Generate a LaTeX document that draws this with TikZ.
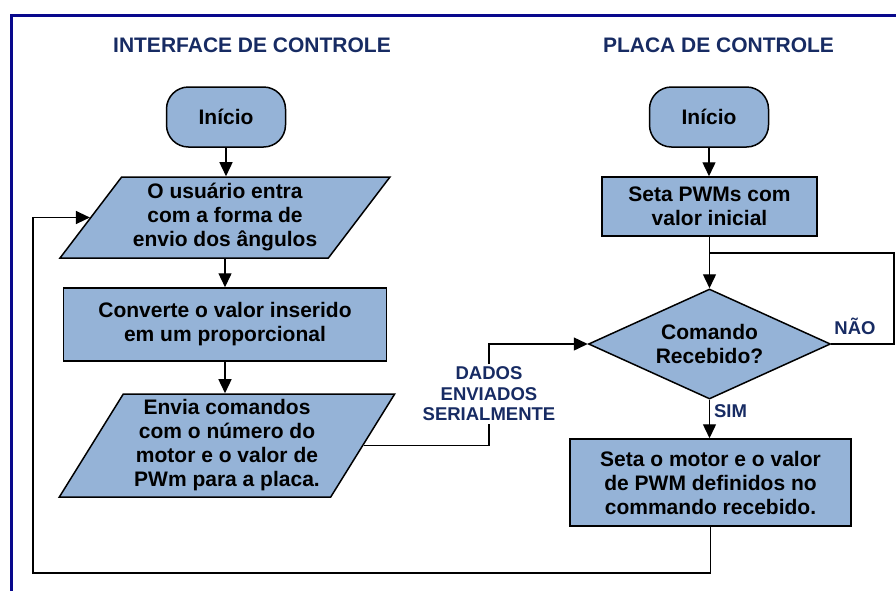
\documentclass[tikz,border=0pt]{standalone}
\usepackage{fontspec}
\setmainfont{Liberation Sans}
\usetikzlibrary{arrows.meta,shapes.geometric}

\definecolor{caixa}{RGB}{149,179,215}
\definecolor{azultexto}{RGB}{23,43,99}
\definecolor{moldura}{RGB}{8,8,140}

\tikzset{
	texto/.style={font=\fontsize{21}{24}\selectfont\bfseries, align=center},
	bloco/.style={texto, draw, fill=caixa, line width=1.5pt},
	inicio/.style={bloco, rounded corners=22pt, minimum width=119pt, minimum height=60pt},
	processo/.style={bloco, inner sep=0pt},
	entrada/.style={bloco, trapezium, trapezium stretches=true, inner sep=0pt},
	decisao/.style={bloco, diamond, aspect=2.2, inner sep=0pt},
	rotulo/.style={font=\fontsize{18.5}{20.5}\selectfont\bfseries, text=azultexto, align=center},
	cabecalho/.style={font=\fontsize{21}{24}\selectfont\bfseries, text=azultexto},
	linha/.style={line width=1.4pt}
}

\begin{document}
\begin{tikzpicture}[x=1pt, y=-1pt, >={Triangle[length=14pt,width=13pt]}]
	\useasboundingbox (0,0) rectangle (896,590);
	
	% Moldura
	\draw[moldura, line width=3pt, line join=miter] (11,592) -- (11,15.5) -- (898,15.5);
	
	% Titulos
	\node[cabecalho] (t1) at (252,45) {INTERFACE DE CONTROLE};
	\node[cabecalho] (t2) at (718.5,45) {PLACA DE CONTROLE};
	
	% Interface de controle
	\node[inicio] (s1) at (226,117) {Início};
	\node[entrada, trapezium left angle=51, trapezium right angle=129,
		minimum width=331pt, minimum height=81pt] (p1) at (225,217.5)
		{O usuário entra\\com a forma de\\envio dos ângulos};
	\node[processo, minimum width=323pt, minimum height=73pt] (r2) at (225,324.5)
		{Converte o valor inserido\\em um proporcional};
	\node[entrada, trapezium left angle=58, trapezium right angle=122,
		minimum width=336pt, minimum height=103pt] (p2) at (227,445.5)
		{Envia comandos\\com o número do\\motor e o valor de\\PWm para a placa.};
	
	% Placa de controle
	\node[inicio] (s2) at (709,117) {Início};
	\node[processo, minimum width=215pt, minimum height=59pt] (r1) at (709.5,206.5)
		{Seta PWMs com\\valor inicial};
	\node[decisao, minimum width=242pt, minimum height=110pt] (d) at (709.5,344)
		{Comando\\Recebido?};
	\node[processo, minimum width=281pt, minimum height=87pt] (r3) at (710.5,482.5)
		{Seta o motor e o valor\\de PWM definidos no\\commando recebido.};
	
	% Setas verticais
	\foreach \a/\b in {s1/p1, p1/r2, r2/p2, s2/r1, r1/d, d/r3} {
		\draw[linha, ->] (\a.south) -- (\a.south |- \b.north);
	}
	
	% Envio serial
	\node[rotulo, fill=white, inner sep=3pt] (dados) at (489,394) {DADOS\\ENVIADOS\\SERIALMENTE};
	\draw[linha] (p2.right side) -| (dados.south);
	\draw[linha, ->] (dados.north) |- (d.west);
	
	% Laco NAO
	\coordinate (canto) at (894,253);
	\draw[linha] (d.east) -| (canto) -- (canto -| r1.south);
	\node[rotulo] (nao) at (855,326) {NÃO};
	\node[rotulo] (sim) at (730.5,411) {SIM};
	
	% Retorno
	\coordinate (base) at (33,573);
	\draw[linha, ->] (r3.south) |- (base) |- (p1.left side);
	
\end{tikzpicture}
\end{document}
